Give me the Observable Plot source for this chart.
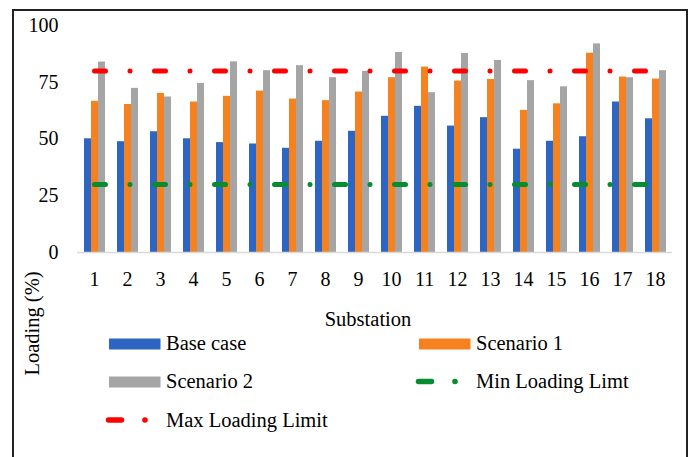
<!DOCTYPE html>
<html><head><meta charset="utf-8">
<script src="https://cdn.jsdelivr.net/npm/d3@7"></script>
<script src="https://cdn.jsdelivr.net/npm/@observablehq/plot@0.6"></script>
<style>
body{margin:0;background:#fff;}
#wrap{position:relative;width:694px;height:457px;overflow:hidden;}
#wrap svg{position:absolute;left:0;top:0;}
</style></head>
<body><div id="wrap"></div>
<script>
const substations = [1,2,3,4,5,6,7,8,9,10,11,12,13,14,15,16,17,18];
const seriesNames = ["Base case","Scenario 1","Scenario 2"];
const baseCase  = [50.1,48.8,53.2,50.1,48.4,47.8,45.9,49.0,53.4,60.0,64.4,55.7,59.4,45.5,49.0,51.0,66.3,58.9];
const scenario1 = [66.6,65.2,70.1,66.3,68.8,71.1,67.6,66.9,70.7,77.0,81.7,75.5,76.2,62.6,65.5,87.8,77.3,76.4];
const scenario2 = [83.9,72.3,68.5,74.5,84.0,80.1,82.3,77.0,79.8,88.1,70.4,87.7,84.6,75.7,73.0,91.9,77.0,80.1];
const limitNames = ["Min Loading Limt","Max Loading Limit"];
const minLimit = 30;
const maxLimit = 80;
const yTicks = [0,25,50,75,100];
const xLabel = "Substation";
const yLabel = "Loading (%)";

const barColors = ["#2C66C2","#F5821F","#A5A5A5"];
const minColor = "#078C30";
const maxColor = "#FF0000";
const font = "'Liberation Serif','Times New Roman',serif";
const dash = "11,24.5,0,24.5";

const seriesValues = [baseCase, scenario1, scenario2];
const rows = substations.flatMap((s,i) => seriesNames.map((name,k) => ({substation:s, series:name, value:seriesValues[k][i]})));
const minRows = substations.map(s => ({substation:s, value:minLimit}));
const maxRows = substations.map(s => ({substation:s, value:maxLimit}));

const common = {
  width:694, height:457, marginLeft:77, marginRight:22, marginTop:25, marginBottom:205,
  style:{background:"transparent", fontFamily:font, fontSize:"20px", color:"#000", overflow:"visible"}
};

const bars = Plot.plot({
  ...common,
  fx:{domain:substations, paddingInner:0.33, paddingOuter:0.165, axis:null, label:null},
  x:{domain:seriesNames, padding:0, axis:null},
  y:{domain:[0,100], axis:null},
  color:{domain:seriesNames, range:barColors},
  marks:[
    Plot.barY(rows, {fx:"substation", x:"series", y:"value", fill:"series"})
  ]
});

const overlay = Plot.plot({
  ...common,
  x:{type:"point", domain:substations, padding:0.5},
  y:{domain:[0,100]},
  marks:[
    Plot.axisY({ticks:yTicks, tickSize:0, tickPadding:19, label:null, fontSize:20}),
    Plot.axisX({tickSize:0, tickPadding:19, label:null, fontSize:20}),
    Plot.ruleY([0], {stroke:"#D9D9D9", strokeWidth:1.5}),
    Plot.lineY(maxRows, {x:"substation", y:"value", stroke:maxColor, strokeWidth:5, strokeLinecap:"round", strokeDasharray:dash}),
    Plot.lineY(minRows, {x:"substation", y:"value", stroke:minColor, strokeWidth:5, strokeLinecap:"round", strokeDasharray:dash})
  ]
});

const wrap = document.getElementById("wrap");
wrap.appendChild(bars);
wrap.appendChild(overlay);

// annotations: axis titles, legend, border
const svg = d3.select(wrap).append("svg").attr("width",694).attr("height",457)
  .style("font-family", font).style("fill","#000");
svg.append("rect").attr("x",13).attr("y",10).attr("width",674).attr("height",470)
  .attr("fill","none").attr("stroke","#222").attr("stroke-width",2);
svg.append("text").attr("x",368).attr("y",326).attr("text-anchor","middle").attr("font-size",20.5).text(xLabel);
svg.append("text").attr("transform","translate(39,323.5) rotate(-90)").attr("text-anchor","middle").attr("font-size",20.5).text(yLabel);

const legendItems = [
  {label:seriesNames[0], kind:"rect", color:barColors[0], x:109, y:350},
  {label:seriesNames[1], kind:"rect", color:barColors[1], x:419, y:350},
  {label:seriesNames[2], kind:"rect", color:barColors[2], x:109, y:388},
  {label:limitNames[0], kind:"line", color:minColor, x:419, y:388},
  {label:limitNames[1], kind:"line", color:maxColor, x:109, y:426.5}
];
for (const it of legendItems) {
  if (it.kind === "rect") {
    svg.append("rect").attr("x",it.x).attr("y",it.y-11.5).attr("width",51.5).attr("height",11).attr("fill",it.color);
  } else {
    svg.append("line").attr("x1",it.x-0.5).attr("x2",it.x+12.5).attr("y1",it.y-6.5).attr("y2",it.y-6.5)
      .attr("stroke",it.color).attr("stroke-width",5.5).attr("stroke-linecap","round");
    svg.append("circle").attr("cx",it.x+36).attr("cy",it.y-6.5).attr("r",2.8).attr("fill",it.color);
  }
  svg.append("text").attr("x",it.x+57).attr("y",it.y).attr("font-size",20.5).text(it.label);
}
</script>
</body></html>
